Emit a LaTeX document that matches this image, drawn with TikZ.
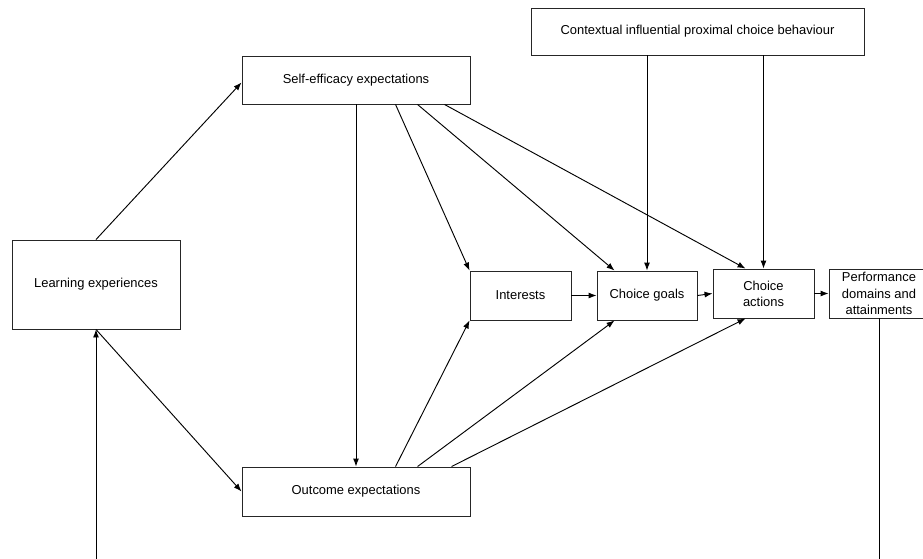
\documentclass[tikz,border=0pt]{standalone}
\usepackage{fontspec}
\setmainfont{Liberation Sans}
\usetikzlibrary{calc,arrows.meta}
\begin{document}
\begin{tikzpicture}[x=0.75pt,y=-0.75pt,
  box/.style={draw=black!85,line width=0.7pt,inner sep=0pt,align=center,
    font=\fontsize{9.7}{12.2}\selectfont},
  arr/.style={line width=0.7pt,-{Latex[length=6pt,width=4.5pt]}},
  ln/.style={line width=0.7pt}]
\useasboundingbox (0,0) rectangle (923,558);
\node[box,minimum width=168*0.75pt,minimum height=89*0.75pt] (le) at (96,284.5) {Learning experiences};
\node[box,minimum width=228*0.75pt,minimum height=48*0.75pt] (se) at (356,80) {Self-efficacy expectations};
\node[box,minimum width=228*0.75pt,minimum height=49*0.75pt] (ou) at (356,491.5) {Outcome expectations};
\node[box,minimum width=333*0.75pt,minimum height=47*0.75pt] (ct) at (697.5,31.5) {Contextual influential proximal choice behaviour};
\node[box,minimum width=101*0.75pt,minimum height=49*0.75pt] (in) at (520.5,295.5) {Interests};
\node[box,minimum width=100*0.75pt,minimum height=49*0.75pt] (cg) at (647,295.5) {Choice goals};
\node[box,minimum width=101*0.75pt,minimum height=49*0.75pt] (ca) at (763.5,293.5) {Choice\\actions};
\node[box,minimum width=100*0.75pt,minimum height=49*0.75pt] (pf) at (879,293.5) {Performance\\domains and\\attainments};
\coordinate (pfb) at (879,560);
\coordinate (leb) at (96,560);
% edges
\draw[arr] (le.north) -- ($(se.south west)+(0,-22)$);
\draw[arr] (le.south) -- (ou.west);
\draw[arr] (se.south) -- (ou.north);
\draw[arr] ($(se.south west)+(154,0)$) -- (in.north west);
\draw[arr] ($(se.south west)+(176,0)$) -- ($(cg.north west)+(18,0)$);
\draw[arr] ($(se.south west)+(203,0)$) -- ($(ca.north west)+(33,0)$);
\draw[arr] ($(ou.north west)+(154,0)$) -- (in.south west);
\draw[arr] ($(ou.north west)+(176,0)$) -- ($(cg.south west)+(18,0)$);
\draw[arr] ($(ou.north west)+(210,0)$) -- ($(ca.south west)+(33,0)$);
\draw[arr] (cg.north |- ct.south) -- (cg.north);
\draw[arr] (ca.north |- ct.south) -- (ca.north);
\draw[arr] (in.east) -- (cg.west);
\draw[arr] (cg.east) -- (ca.west);
\draw[arr] (ca.east) -- (pf.west);
\draw[ln] (pf.south) -- (pfb);
\draw[arr] (leb) -- (le.south);
\end{tikzpicture}
\end{document}
